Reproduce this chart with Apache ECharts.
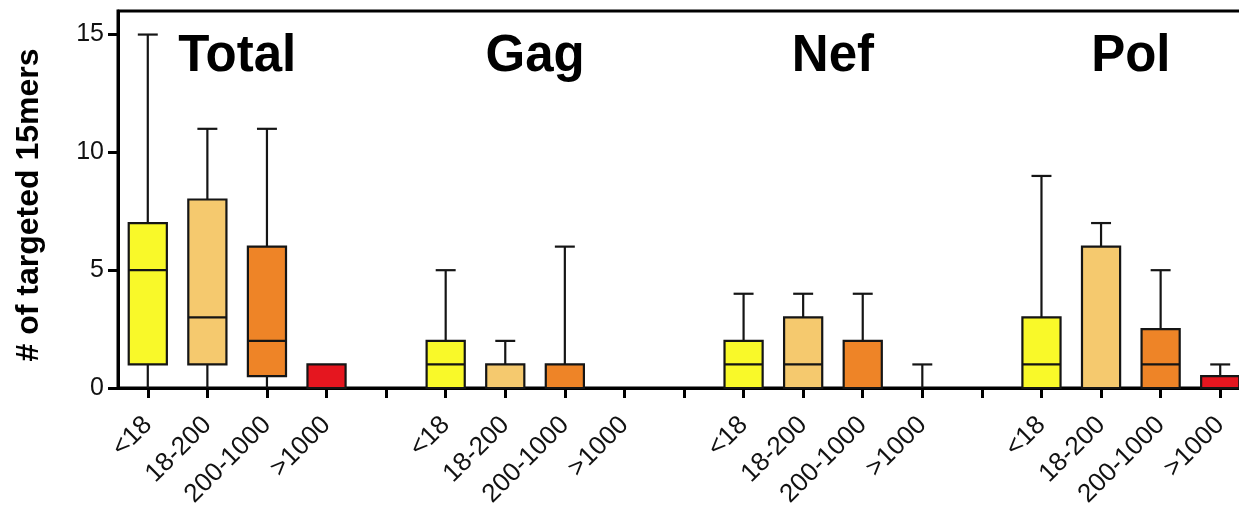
<!DOCTYPE html>
<html>
<head>
<meta charset="utf-8">
<title># of targeted 15mers</title>
<script src="https://cdn.jsdelivr.net/npm/echarts@6/dist/echarts.min.js"></script>
<style>
  html, body { margin: 0; padding: 0; background: #ffffff; }
  #chart { width: 1239px; height: 509px; }
</style>
</head>
<body>
<div id="chart"></div>
<script>
// Binding-affinity bins shown under every protein group
const bins = ['<18', '18-200', '200-1000', '>1000'];
const groupNames = ['Total', 'Gag', 'Nef', 'Pol'];
const yTitle = '# of targeted 15mers';

// Box-and-whisker values per bin: [min, Q1, median, Q3, max]
const totalBoxes = [
  [0, 1, 5, 7, 15],
  [0, 1, 3, 8, 11],
  [0, 0.5, 2, 6, 11],
  [0, 0, 0, 1, 1]
];
const gagBoxes = [
  [0, 0, 1, 2, 5],
  [0, 0, 0, 1, 2],
  [0, 0, 0, 1, 6],
  [0, 0, 0, 0, 0]
];
const nefBoxes = [
  [0, 0, 1, 2, 4],
  [0, 0, 1, 3, 4],
  [0, 0, 0, 2, 4],
  [0, 0, 0, 0, 1]
];
const polBoxes = [
  [0, 0, 1, 3, 9],
  [0, 0, 0, 6, 7],
  [0, 0, 1, 2.5, 5],
  [0, 0, 0, 0.5, 1]
];

const yTicks = [0, 5, 10, 15];
const binColors = ['#f9f929', '#f5c96e', '#ee8427', '#e5161f'];

// Category slots: four bins per group with an empty spacer slot between groups
const groups = [totalBoxes, gagBoxes, nefBoxes, polBoxes];
const categories = [];
const boxData = [];
groups.forEach(function (boxes, g) {
  if (g > 0) categories.push('');
  boxes.forEach(function (b, i) {
    const idx = categories.length;
    categories.push(bins[i]);
    boxData.push([idx].concat(b).concat([i]));
  });
});

const chart = echarts.init(document.getElementById('chart'), null, { renderer: 'canvas' });

const stroke = '#151515';
const font = 'Liberation Sans, Arial, sans-serif';

function renderBox(params, api) {
  const idx = api.value(0);
  const vMin = api.value(1), q1 = api.value(2), med = api.value(3), q3 = api.value(4), vMax = api.value(5);
  const colorIdx = api.value(6);
  const slot = api.size([1, 0])[0];
  const boxW = slot * 0.64;
  const capW = slot * 0.335;
  const x = api.coord([idx, 0])[0];
  const yMin = api.coord([idx, vMin])[1];
  const yQ1 = api.coord([idx, q1])[1];
  const yMed = api.coord([idx, med])[1];
  const yQ3 = api.coord([idx, q3])[1];
  const yMax = api.coord([idx, vMax])[1];
  const lineStyle = { stroke: stroke, lineWidth: 2.2 };
  const children = [];
  if (vMax > q3) {
    children.push({ type: 'line', shape: { x1: x, y1: yQ3, x2: x, y2: yMax }, style: lineStyle });
    children.push({ type: 'line', shape: { x1: x - capW / 2, y1: yMax, x2: x + capW / 2, y2: yMax }, style: lineStyle });
  }
  if (vMin < q1) {
    children.push({ type: 'line', shape: { x1: x, y1: yQ1, x2: x, y2: yMin }, style: lineStyle });
  }
  if (q3 > q1) {
    children.push({
      type: 'rect',
      shape: { x: x - boxW / 2, y: yQ3, width: boxW, height: yQ1 - yQ3 },
      style: { fill: binColors[colorIdx], stroke: stroke, lineWidth: 2.2 }
    });
    if (med > q1 && med < q3) {
      children.push({ type: 'line', shape: { x1: x - boxW / 2, y1: yMed, x2: x + boxW / 2, y2: yMed }, style: lineStyle });
    }
  }
  return { type: 'group', children: children };
}

const option = {
  animation: false,
  backgroundColor: '#ffffff',
  grid: {
    left: 118,
    right: -11,
    top: 11,
    bottom: 121,
    show: true,
    borderColor: '#000000',
    borderWidth: 3,
    containLabel: false,
    outerBoundsMode: 'none'
  },
  xAxis: {
    type: 'category',
    data: categories,
    boundaryGap: true,
    axisLine: { lineStyle: { color: '#000000', width: 3 } },
    axisTick: { show: true, alignWithLabel: true, interval: 0, length: 10, lineStyle: { color: '#000000', width: 3 } },
    axisLabel: {
      interval: 0,
      rotate: 45,
      margin: 33,
      fontFamily: font,
      fontSize: 26,
      color: '#111111'
    },
    splitLine: { show: false }
  },
  yAxis: {
    type: 'value',
    min: 0,
    max: 16,
    interval: 5,
    axisLine: { show: true, lineStyle: { color: '#000000', width: 3 } },
    axisTick: { show: true, length: 10, customValues: yTicks, lineStyle: { color: '#000000', width: 3 } },
    axisLabel: {
      customValues: yTicks,
      margin: 14,
      fontFamily: font,
      fontSize: 25,
      color: '#111111'
    },
    splitLine: { show: false }
  },
  series: [{
    type: 'custom',
    renderItem: renderBox,
    encode: { x: 0, y: [1, 5] },
    data: boxData,
    clip: false,
    z: 3
  }]
};

chart.setOption(option);

// Group headings centred between the two middle bins of each group
const graphics = groupNames.map(function (name, g) {
  const a = chart.convertToPixel({ xAxisIndex: 0 }, g * 5 + 1);
  const b = chart.convertToPixel({ xAxisIndex: 0 }, g * 5 + 2);
  return {
    type: 'text',
    x: (a + b) / 2,
    y: 57,
    style: {
      text: name,
      fontFamily: font,
      fontSize: 51,
      fontWeight: 'bold',
      fill: '#000000',
      textAlign: 'center',
      textVerticalAlign: 'middle'
    }
  };
});

// Rotated y-axis title
graphics.push({
  type: 'text',
  x: 29,
  y: 205,
  rotation: Math.PI / 2,
  style: {
    text: yTitle,
    fontFamily: font,
    fontSize: 32,
    fontWeight: 'bold',
    fill: '#000000',
    textAlign: 'center',
    textVerticalAlign: 'middle'
  }
});
chart.setOption({ graphic: graphics });
</script>
</body>
</html>
